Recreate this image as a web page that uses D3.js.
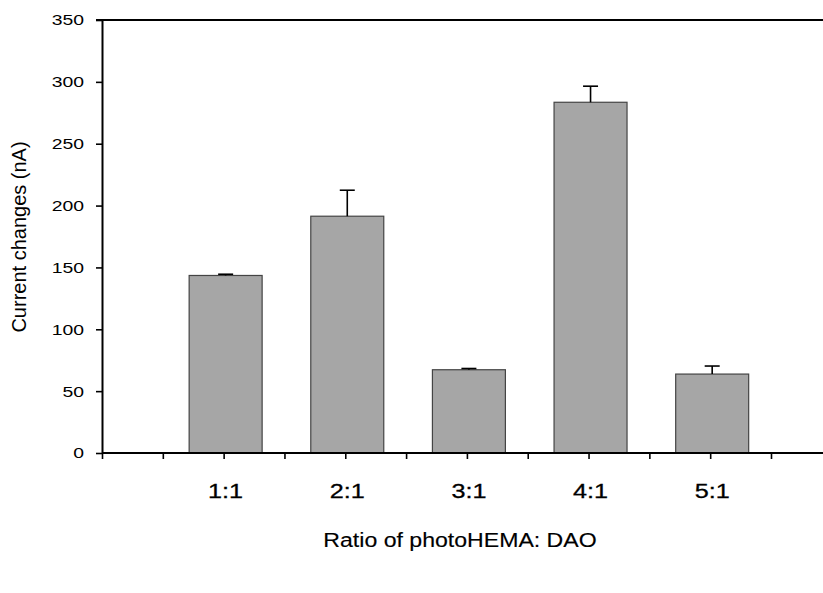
<!DOCTYPE html>
<html>
<head>
<meta charset="UTF-8">
<title>Current changes vs ratio</title>
<script src="https://cdn.jsdelivr.net/npm/d3@7"></script>
<style type="text/css">
	body{
		margin: 0;
		background: #fff;
	}
	svg text{
		font-family: "Liberation Sans", Arial, sans-serif;
		fill: #000;
	}
	/* the reference glyphs look a bit stretched sideways */
	.ytick text{
		transform-box: fill-box;
		transform-origin: right center;
		transform: scaleX(1.25);
	}
	.xlabel, .xtitle{
		transform-box: fill-box;
		transform-origin: center;
	}
	.xlabel{ transform: scaleX(1.2); stroke: #000; stroke-width: 0.3px; }
	.xtitle{ transform: scaleX(1.1); stroke: #000; stroke-width: 0.15px; }
</style>
</head>
<body>
<script>
var ratios = ["1:1", "2:1", "3:1", "4:1", "5:1"];
var currentValues = [143.5, 191.4, 67.3, 283.5, 63.8];
var errorValues = [1, 21, 1, 13, 6.5];
var yTickValues = [0, 50, 100, 150, 200, 250, 300, 350];
var xTickPositions = [0, 0.5, 1, 1.5, 2, 2.5, 3, 3.5, 4, 4.5, 5, 5.5];

var width = 823;
var height = 593;

var svg = d3.select("body").append("svg")
			.attr("width", width)
			.attr("height", height);

var x = d3.scaleLinear().domain([0, 5.5]).range([102, 771]);
var y = d3.scaleLinear().domain([0, 350]).range([453, 20]);

var barW = x(0.6) - x(0);

// top frame line
svg.append("line")
	.attr("x1", x(0) - 6).attr("x2", width)
	.attr("y1", y(350)).attr("y2", y(350))
	.attr("stroke", "#000")
	.attr("stroke-width", 2);

// bars
svg.selectAll("rect.bar")
	.data(currentValues)
	.enter()
		.append("rect")
		.attr("class", "bar")
		.attr("x", function(d, i){ return x(i + 1) - barW / 2 + 2; })
		.attr("y", function(d){ return y(d); })
		.attr("width", barW)
		.attr("height", function(d){ return y(0) - y(d); })
		.attr("fill", "#a6a6a6")
		.attr("stroke", "#444")
		.attr("stroke-width", 1.2);

// error bars (upper only)
var err = svg.append("g").attr("stroke", "#000").attr("stroke-width", 1.6);
currentValues.forEach(function(d, i){
	var cx = x(i + 1) + 2;
	err.append("line")
		.attr("x1", cx).attr("x2", cx)
		.attr("y1", y(d)).attr("y2", y(d + errorValues[i]));
	err.append("line")
		.attr("x1", cx - 7.5).attr("x2", cx + 7.5)
		.attr("y1", y(d + errorValues[i])).attr("y2", y(d + errorValues[i]));
});

// y axis
var yAxis = svg.append("g")
	.attr("class", "ytick")
	.attr("transform", "translate(" + x(0) + ",0)")
	.call(d3.axisLeft(y).tickValues(yTickValues).tickSize(6).tickPadding(12).tickSizeOuter(0));
yAxis.select(".domain").attr("stroke-width", 2);
yAxis.selectAll(".tick line").attr("stroke-width", 1.6);
yAxis.selectAll("text").attr("font-size", "15.5px").attr("font-family", null);

// x axis, ticks every half category, line runs off the right edge
var xAxis = svg.append("g")
	.attr("transform", "translate(0," + y(0) + ")")
	.call(d3.axisBottom(x).tickValues(xTickPositions).tickSize(6).tickFormat("").tickSizeOuter(0));
xAxis.select(".domain").attr("d", "M" + x(0) + ",0H" + width).attr("stroke-width", 2);
xAxis.selectAll(".tick line").attr("stroke-width", 1.6);

// category labels
svg.selectAll("text.xlabel")
	.data(ratios)
	.enter()
		.append("text")
		.attr("class", "xlabel")
		.attr("x", function(d, i){ return x(i + 1) + 2; })
		.attr("y", 498)
		.attr("text-anchor", "middle")
		.attr("font-size", "21px")
		.text(function(d){ return d; });

// axis titles
svg.append("text")
	.attr("class", "xtitle")
	.attr("x", 460)
	.attr("y", 547)
	.attr("text-anchor", "middle")
	.attr("font-size", "21px")
	.text("Ratio of photoHEMA: DAO");

svg.append("text")
	.attr("transform", "translate(26,237) rotate(-90)")
	.attr("text-anchor", "middle")
	.attr("font-size", "20px")
	.text("Current changes (nA)");
</script>
</body>
</html>
